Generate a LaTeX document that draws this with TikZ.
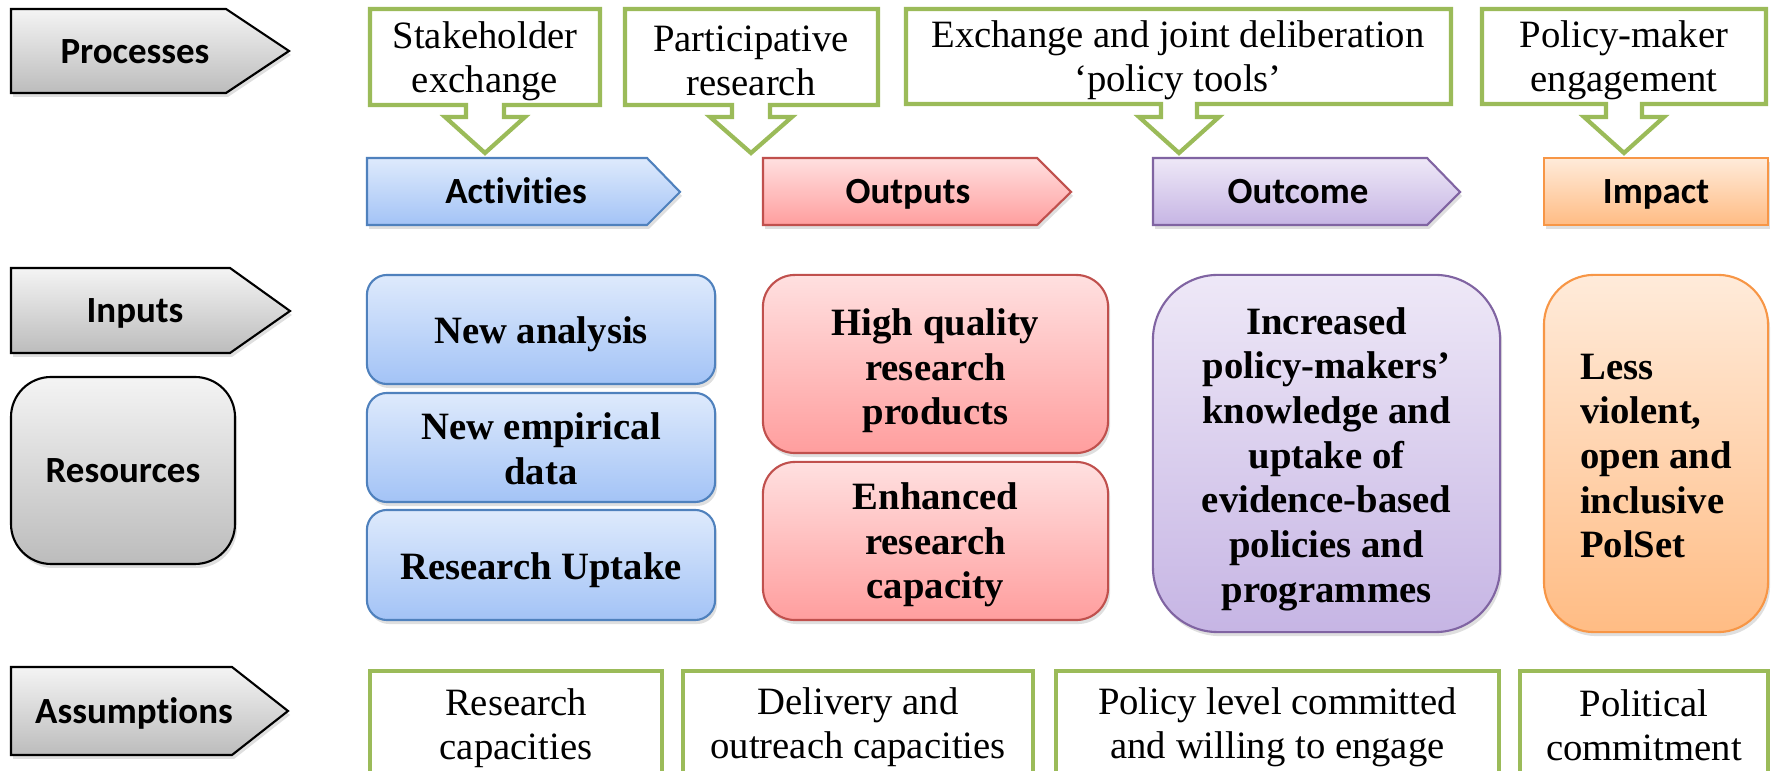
\documentclass[tikz,border=0pt]{standalone}
\usepackage{fontspec}
\setmainfont{Liberation Serif}
\newfontfamily\headfont[Ligatures=NoCommon]{Carlito}
\usepackage{tikz}
\usetikzlibrary{shadows}
\definecolor{leafgreen}{HTML}{9BBB59}
\definecolor{blueline}{HTML}{4F81BD}
\definecolor{redline}{HTML}{C0504D}
\definecolor{purpleline}{HTML}{8064A2}
\definecolor{orangeline}{HTML}{F79646}
\definecolor{bluetop}{RGB}{222,234,252}
\definecolor{bluebot}{RGB}{163,195,246}
\definecolor{redtop}{RGB}{255,224,224}
\definecolor{redbot}{RGB}{255,158,158}
\definecolor{purpletop}{RGB}{238,232,247}
\definecolor{purplebot}{RGB}{198,181,228}
\definecolor{orangetop}{RGB}{255,235,218}
\definecolor{orangebot}{RGB}{255,188,132}
\definecolor{graytop}{RGB}{244,244,244}
\definecolor{graybot}{RGB}{188,188,188}

\begin{document}
\begin{tikzpicture}[x=0.01cm,y=-0.01cm,
  soft/.style={drop shadow={opacity=0.25,shadow xshift=0.02cm,shadow yshift=-0.04cm}},
  grayarrow/.style={soft,draw=black,line width=0.6pt,top color=graytop,bottom color=graybot},
  bluearrow/.style={soft,draw=blueline,line width=0.6pt,top color=bluetop,bottom color=bluebot},
  redarrow/.style={soft,draw=redline,line width=0.6pt,top color=redtop,bottom color=redbot},
  purplearrow/.style={soft,draw=purpleline,line width=0.6pt,top color=purpletop,bottom color=purplebot},
  orangebox/.style={soft,draw=orangeline,line width=0.6pt,top color=orangetop,bottom color=orangebot},
  bluebox/.style={bluearrow,rounded corners=0.2cm},
  redbox/.style={redarrow,rounded corners=0.32cm},
  headtext/.style={font=\headfont\bfseries\fontsize{10.5}{12}\selectfont,anchor=base},
  bodytext/.style={font=\bfseries\fontsize{11}{12.7}\selectfont,align=center},
  calltext/.style={font=\fontsize{11}{12.6}\selectfont,align=center},
  callout/.style={draw=leafgreen,line width=1.2pt,fill=white},
  plainbox/.style={draw=leafgreen,line width=1.2pt,fill=white}]
\clip (0,0) rectangle (1773,771);

% left column
\draw[grayarrow] (11,9) -- (226,9) -- (289,51) -- (226,93) -- (11,93) -- cycle;
\node[headtext] (proc) at (135,64) {Processes};
\draw[grayarrow] (11,268) -- (230,268) -- (290,311) -- (230,353) -- (11,353) -- cycle;
\node[headtext] (inp) at (135,323) {Inputs};
\draw[grayarrow,rounded corners=0.4cm] (11,377) rectangle (235,564);
\node[headtext] (res) at (123,483) {Resources};
\draw[grayarrow] (11,667) -- (232,667) -- (288,711) -- (232,755) -- (11,755) -- cycle;
\node[headtext] (ass) at (134,724) {Assumptions};

% headings
\draw[bluearrow] (367,158) -- (647,158) -- (680,192) -- (647,225) -- (367,225) -- cycle;
\node[headtext] (act) at (516,204) {Activities};
\draw[redarrow] (763,158) -- (1037,158) -- (1071,192) -- (1037,225) -- (763,225) -- cycle;
\node[headtext] (outp) at (908,204) {Outputs};
\draw[purplearrow] (1153,158) -- (1427,158) -- (1460,192) -- (1427,225) -- (1153,225) -- cycle;
\node[headtext] (outc) at (1298,204) {Outcome};
\draw[orangebox] (1544,158) rectangle (1768,225);
\node[headtext] (imp) at (1656,204) {Impact};

% processes
\draw[callout] (370,9) -- (600,9) -- (600,105) -- (504,105) -- (504,117) -- (525,117) -- (485,153) -- (445,117) -- (466,117) -- (466,105) -- (370,105) -- cycle;
\node[calltext] (stake) at (485,61) {Stakeholder\\exchange};
\draw[callout] (625,9) -- (878,9) -- (878,105) -- (770,105) -- (770,117) -- (792,117) -- (751,153) -- (710,117) -- (732,117) -- (732,105) -- (625,105) -- cycle;
\node[calltext] (part) at (751,61) {Participative\\research};
\draw[callout] (906,9) -- (1451,9) -- (1451,104) -- (1197,104) -- (1197,117) -- (1219,117) -- (1179,153) -- (1139,117) -- (1161,117) -- (1161,104) -- (906,104) -- cycle;
\node[calltext] (delib) at (1178,60) {Exchange and joint deliberation\\‘policy tools’};
\draw[callout] (1482,9) -- (1766,9) -- (1766,104) -- (1642,104) -- (1642,117) -- (1664,117) -- (1624,153) -- (1584,117) -- (1606,117) -- (1606,104) -- (1482,104) -- cycle;
\node[calltext] (engage) at (1624,60) {Policy-maker\\engagement};

% inputs and results
\node[bluebox,minimum width=3.48cm,minimum height=1.09cm] (ana) at (541,329.5) {};
\node[bodytext] (ana-t) at (541,334) {New analysis};
\node[bluebox,minimum width=3.48cm,minimum height=1.09cm] (emp) at (541,447.5) {};
\node[bodytext] (emp-t) at (541,449) {New empirical\\data};
\node[bluebox,minimum width=3.48cm,minimum height=1.10cm] (upt) at (541,565) {};
\node[bodytext] (upt-t) at (541,570) {Research Uptake};
\node[redbox,minimum width=3.45cm,minimum height=1.78cm] (hq) at (935.5,364) {};
\node[bodytext] (hq-t) at (935.5,371) {High quality\\research\\products};
\node[redbox,minimum width=3.45cm,minimum height=1.58cm] (enh) at (935.5,541) {};
\node[bodytext] (enh-t) at (935.5,545) {Enhanced\\research\\capacity};
\node[purplearrow,rounded corners=0.65cm,minimum width=3.47cm,minimum height=3.57cm] (know) at (1326.5,453.5) {};
\node[bodytext] (know-t) at (1326.5,459) {Increased\\policy-makers’\\knowledge and\\uptake of\\evidence-based\\policies and\\programmes};
\node[orangebox,rounded corners=0.5cm,minimum width=2.24cm,minimum height=3.57cm] (pols) at (1656,453.5) {};
\node[bodytext,align=left] (pols-t) at (1656,456) {Less\\violent,\\open and\\inclusive\\PolSet};

% assumptions
\draw[plainbox] (370,671) rectangle (662,790);
\node[calltext] (rcap) at (516,728) {Research\\capacities};
\draw[plainbox] (683,671) rectangle (1033,790);
\node[calltext] (ocap) at (858,727) {Delivery and\\outreach capacities};
\draw[plainbox] (1056,671) rectangle (1499,790);
\node[calltext] (will) at (1277.5,727) {Policy level committed\\and willing to engage};
\draw[plainbox] (1520,671) rectangle (1768,790);
\node[calltext] (polc) at (1644,725) {Political\\commitment};
\end{tikzpicture}
\end{document}
